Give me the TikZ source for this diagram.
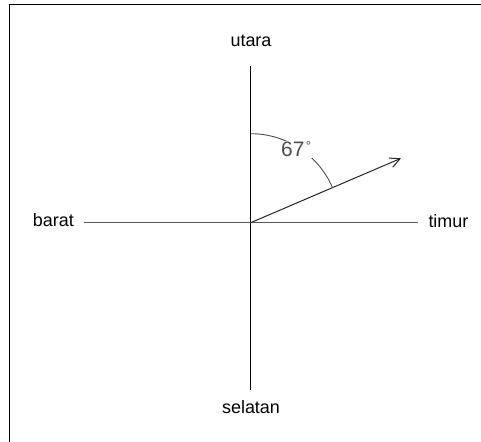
\documentclass[tikz,border=0pt]{standalone}
\usepackage{fontspec}
\setmainfont{Liberation Sans}
\usetikzlibrary{arrows.meta}
\tikzstyle{arah} = [font=\fontsize{18}{20}\selectfont, inner sep=0pt, text=black]
\tikzstyle{sumbu} = [line width=1bp]
\tikzstyle{panah} = [line width=1bp, black!85, -{Straight Barb[length=10bp,width=10bp]}]
\tikzstyle{busur} = [line width=0.9bp, black!70]

\begin{document}
\begin{tikzpicture}[x=1bp, y=1bp]
    \useasboundingbox (-250.7,-219.3) rectangle (230.3,222.7);

    % Bingkai
    \draw [line width=1.3bp] (-241.4,-219.3) |- (230.3,218);

    % Titik
    \coordinate (O) at (0,0);
    \coordinate (n) at (0,156.7);
    \coordinate (s) at (0,-167.3);
    \coordinate (w) at (-166.7,0);
    \coordinate (e) at (167,0);
    \coordinate (tip) at (150.3,64.4);
    \coordinate (a) at (0,89);

    % Label arah
    \node (utara) [arah, anchor=base] at (0.3,175.7) {utara};
    \node (selatan) [arah, anchor=base] at (0.3,-190.3) {selatan};
    \node (barat) [arah, anchor=base east] at (-176.7,-4.3) {barat};
    \node (timur) [arah, anchor=base west] at (177.6,-4.8) {timur};

    % Garis
    \draw [sumbu] (n) -- (s);
    \draw [sumbu, black!65] (w) -- (e);
    \draw [panah] (O) -- (tip);
    \draw [busur] (a) arc[start angle=90, end angle=23.2, radius=89];
    \node (sudut) [fill=white, inner xsep=1.5bp, inner ysep=0.5bp, text=black!70,
        font=\fontsize{21}{22}\selectfont] at (45.5,73.5)
        {67\kern1.5bp{\fontsize{13}{13}\selectfont\raisebox{6.5bp}{°}}};

\end{tikzpicture}
\end{document}
